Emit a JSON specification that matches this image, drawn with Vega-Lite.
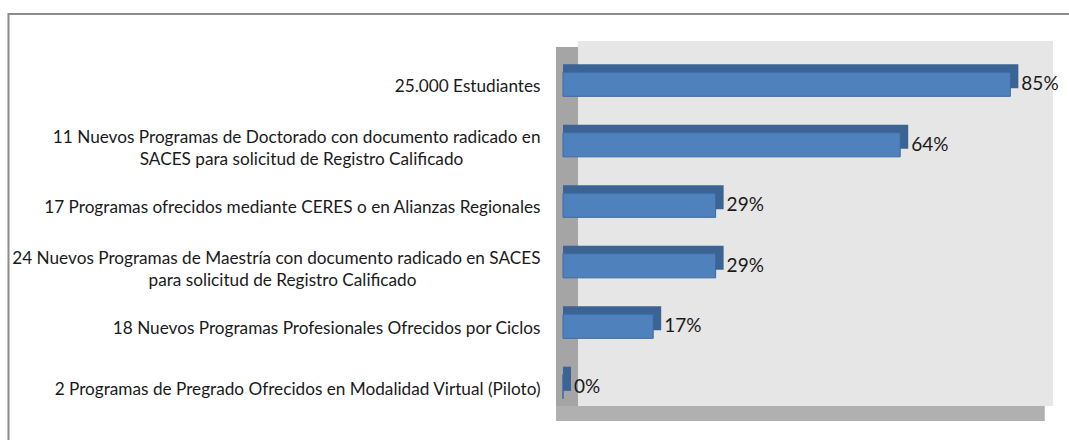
{
  "$schema": "https://vega.github.io/schema/vega-lite/v6.json",
  "width": 475,
  "height": 365,
  "autosize": {"type": "none"},
  "padding": {"left": 578, "top": 41, "right": 16, "bottom": 34},
  "background": "white",
  "config": {"view": {"fill": "#e6e6e6", "stroke": null}, "font": "Lato"},
  "data": {
    "values": [
      {"programa": "25.000 Estudiantes", "avance": 0.853},
      {"programa": "11 Nuevos Programas de Doctorado con documento radicado en\nSACES para solicitud de Registro Calificado", "avance": 0.643},
      {"programa": "17 Programas ofrecidos mediante CERES o en Alianzas Regionales", "avance": 0.291},
      {"programa": "24 Nuevos Programas de Maestría con documento radicado en SACES\npara solicitud de Registro Calificado", "avance": 0.291},
      {"programa": "18 Nuevos Programas Profesionales Ofrecidos por Ciclos", "avance": 0.172},
      {"programa": "2 Programas de Pregrado Ofrecidos en Modalidad Virtual (Piloto)", "avance": 0.0}
    ]
  },
  "resolve": {"axis": {"y": "independent"}},
  "layer": [
    {
      "data": {"values": [{}]},
      "mark": {"type": "rect", "fill": null, "stroke": "#8c8c8c", "strokeWidth": 2, "clip": false},
      "encoding": {
        "x": {"value": -569.5},
        "x2": {"value": 1200},
        "y": {"value": -27},
        "y2": {"value": 600}
      }
    },
    {
      "data": {"values": [{}]},
      "mark": {"type": "rect", "fill": "#a5a5a5", "xOffset": -7, "x2Offset": 15, "yOffset": 6, "y2Offset": 7},
      "encoding": {
        "x": {"datum": 0, "type": "quantitative", "scale": {"domain": [0, 0.89], "range": [-15, 457]}, "axis": null},
        "x2": {"datum": 0},
        "y": {"value": 0},
        "y2": {"value": "height"}
      }
    },
    {
      "data": {"values": [{}]},
      "mark": {"type": "rect", "fill": "#b0b0b0", "xOffset": -7, "x2Offset": 15, "yOffset": 0, "y2Offset": 15},
      "encoding": {
        "x": {"datum": 0, "type": "quantitative"},
        "x2": {"datum": 0.89},
        "y": {"value": "height"},
        "y2": {"value": "height"}
      }
    },
    {
      "mark": {"type": "bar", "fill": "#3b6394", "xOffset": 8, "yOffset": -8, "y2Offset": -8},
      "encoding": {
        "x": {"field": "avance", "type": "quantitative"},
        "x2": {"datum": 0},
        "y": {
          "field": "programa", "type": "nominal", "sort": null,
          "scale": {"range": [13, 376], "paddingInner": 0.6, "paddingOuter": 0.3},
          "axis": {
            "orient": "left", "title": null, "domain": false, "ticks": false, "grid": false,
            "labelPadding": 38, "labelLimit": 0, "labelFontSize": 17.2, "labelFont": "Lato",
            "labelColor": "#1a1a1a", "labelAlign": "right",
            "labelOffset": {"condition": {"test": "indexof(datum.value, '\\n') >= 0", "value": -7}, "value": 3},
            "labelExpr": "split(datum.label, '\\n')[0]"
          }
        }
      }
    },
    {
      "mark": {"type": "bar", "fill": "#4f81bd", "stroke": "#3d69a0", "strokeWidth": 1},
      "encoding": {
        "x": {"field": "avance", "type": "quantitative"},
        "x2": {"datum": 0},
        "y": {
          "field": "programa", "type": "nominal", "sort": null,
          "axis": {
            "orient": "left", "title": null, "domain": false, "ticks": false, "grid": false,
            "labelLimit": 0, "labelFontSize": 17.2, "labelFont": "Lato",
            "labelColor": "#1a1a1a", "labelAlign": "center", "labelOffset": 15,
            "labelPadding": {"condition": {"test": "indexof(datum.value, 'Doctorado') >= 0", "value": 277}, "value": 296},
            "labelExpr": "indexof(datum.label, '\\n') >= 0 ? split(datum.label, '\\n')[1] : ''"
          }
        }
      }
    },
    {
      "mark": {"type": "text", "align": "left", "baseline": "middle", "dx": 11, "dy": 0, "fontSize": 19, "font": "Lato", "color": "#1a1a1a"},
      "encoding": {
        "x": {"field": "avance", "type": "quantitative"},
        "y": {"field": "programa", "type": "nominal", "sort": null, "axis": null},
        "text": {"field": "avance", "type": "quantitative", "format": ".0%"}
      }
    }
  ]
}
